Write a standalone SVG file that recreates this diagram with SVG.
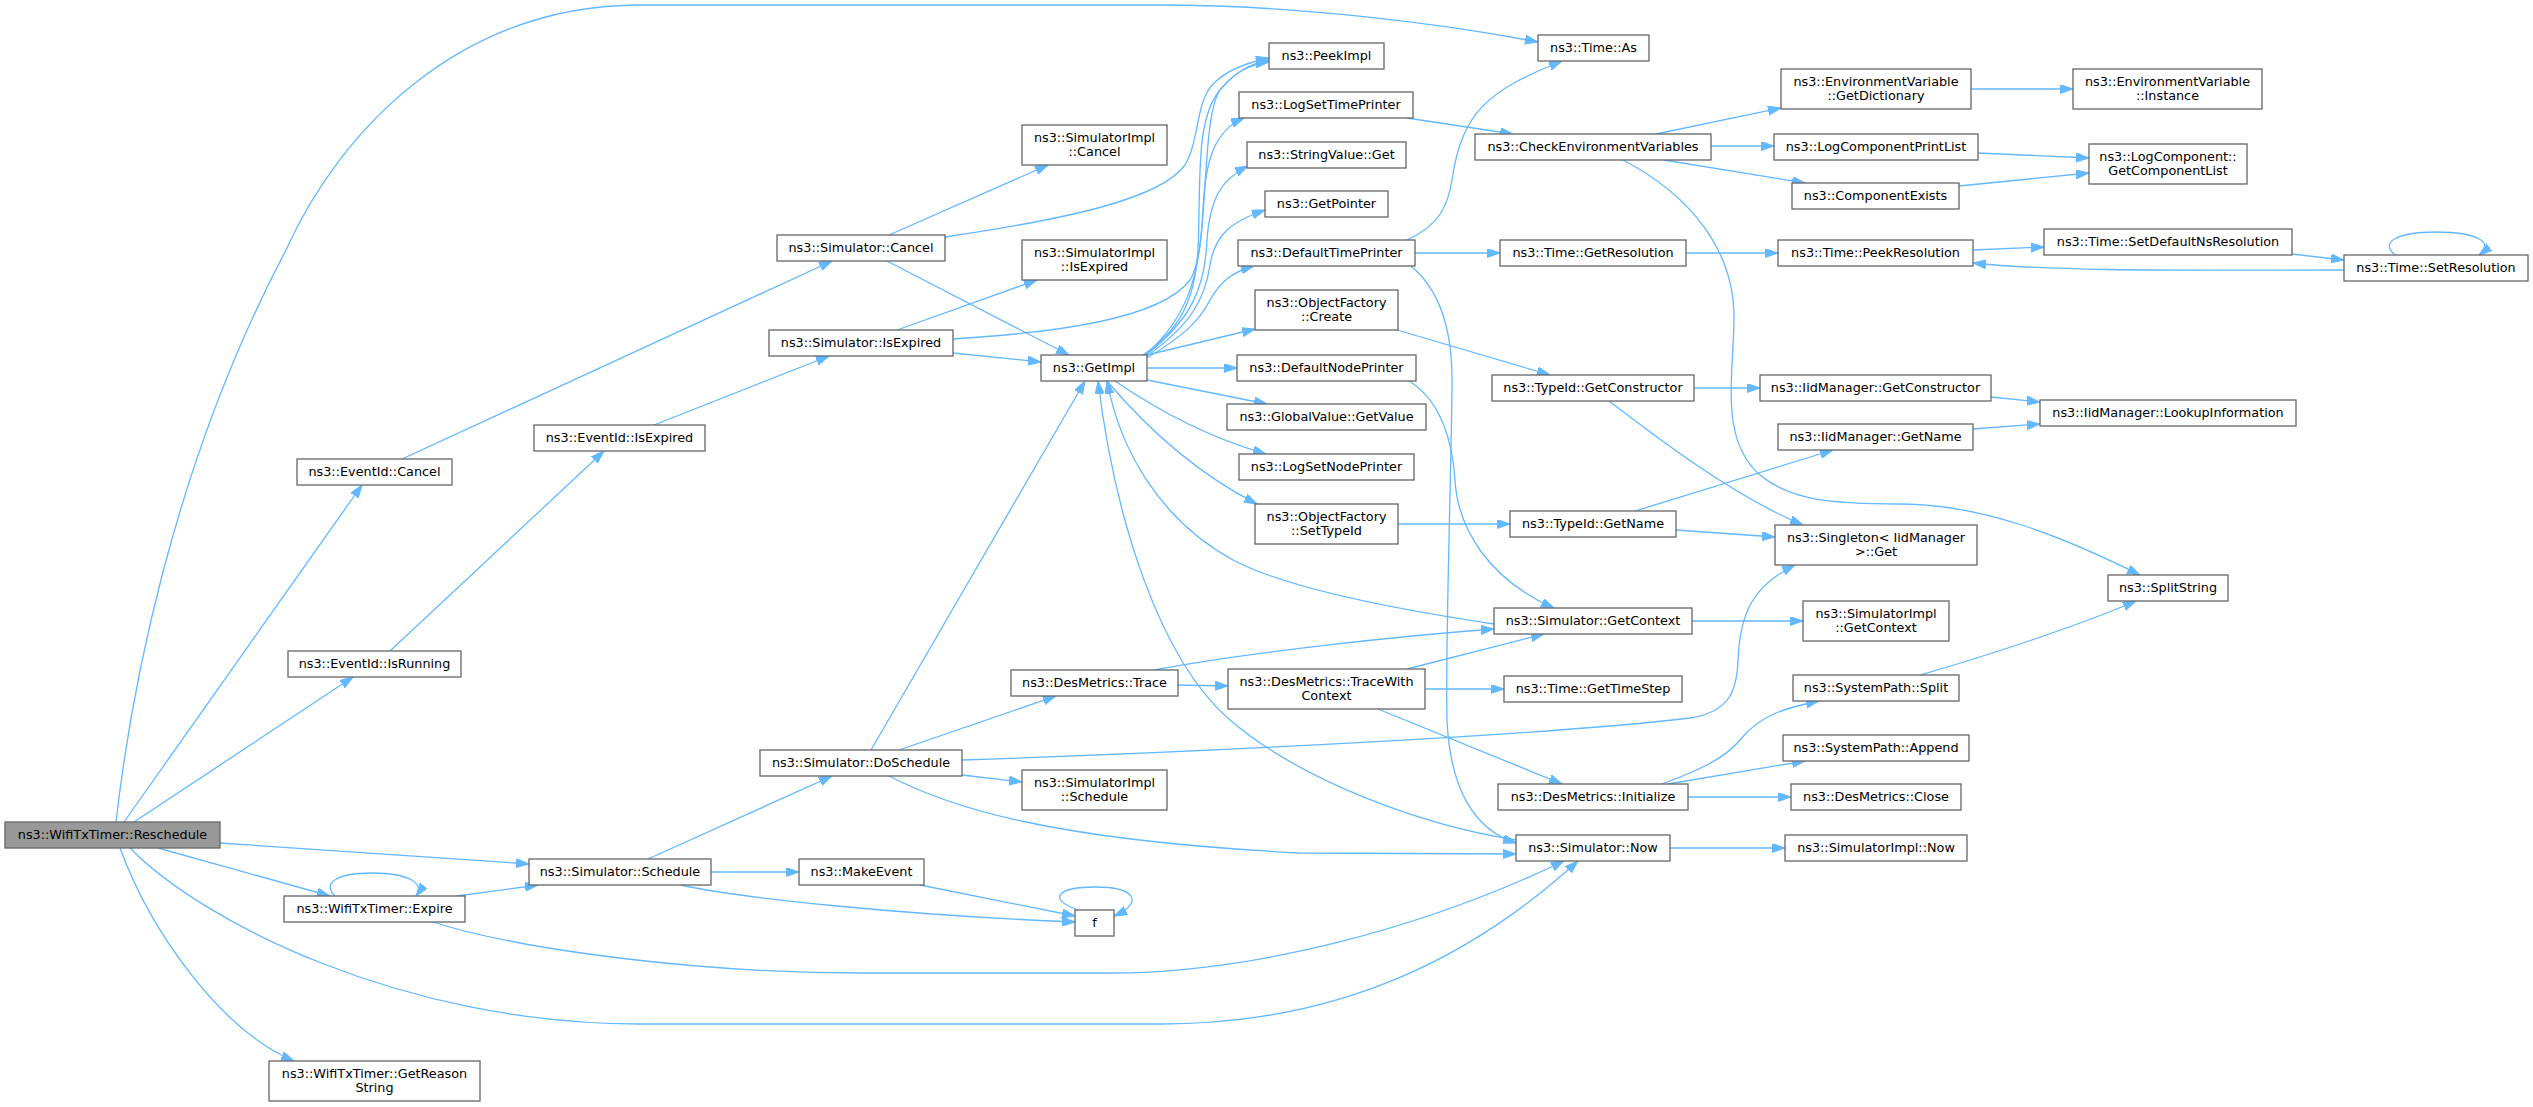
<svg xmlns="http://www.w3.org/2000/svg" width="2533" height="1107" viewBox="0 0 2533 1107">
<style>
.node rect{fill:#ffffff;stroke:#666666;stroke-width:1.3}
.node.root rect{fill:#999999}
.node text{font-family:"DejaVu Sans","Liberation Sans",sans-serif;font-size:12.8px;text-anchor:middle;fill:#000000}
.edges path{fill:none;stroke:#63b8ff;stroke-width:1.3;marker-end:url(#arr)}
</style>
<defs>
<marker id="arr" markerUnits="userSpaceOnUse" markerWidth="14" markerHeight="10" refX="13" refY="4.5" orient="auto">
<path d="M0,0 L13,4.5 L0,9 z" fill="#63b8ff" stroke="#63b8ff" stroke-width="1"/>
</marker>
</defs>
<rect width="2533" height="1107" fill="#ffffff"/>
<g class="edges">
<path d="M116,822 C130,700 170,470 286,250 C340,130 460,5 640,5 L1160,5 C1300,5 1450,25 1538,42"/>
<path d="M124,822 L362,485"/>
<path d="M134,822 L353,677"/>
<path d="M220,843 L529,864"/>
<path d="M158,848 L330,896"/>
<path d="M130,848 C200,920 400,1024 640,1024 L1160,1024 C1350,1024 1480,950 1578,861"/>
<path d="M120,848 C150,930 220,1030 294,1061"/>
<path d="M335,896 C322,884 335,873 372,873 C410,873 425,884 416,896"/>
<path d="M457,896 L538,885"/>
<path d="M433,922 C520,950 700,973 860,973 L1110,973 C1250,973 1420,930 1564,861"/>
<path d="M648,859 L832,776"/>
<path d="M711,872 L799,872"/>
<path d="M681,885 C740,898 900,915 1075,922"/>
<path d="M920,885 L1075,916"/>
<path d="M1078,910 C1045,898 1060,887 1095,887 C1135,887 1145,902 1114,916"/>
<path d="M871,750 L1085,381"/>
<path d="M899,750 L1056,696"/>
<path d="M962,775 L1022,782"/>
<path d="M962,760 C1200,752 1550,735 1690,718 C1730,712 1737,690 1738,660 C1740,610 1755,585 1795,565"/>
<path d="M887,775 C950,808 1050,840 1300,853 L1516,854"/>
<path d="M1178,685 L1228,686"/>
<path d="M1154,670 C1250,652 1400,636 1494,629"/>
<path d="M1407,669 L1544,634"/>
<path d="M1425,689 L1504,689"/>
<path d="M1378,709 L1562,784"/>
<path d="M1662,784 C1700,770 1725,758 1740,740 C1760,715 1785,708 1819,701"/>
<path d="M1668,784 L1805,761"/>
<path d="M1688,797 L1791,797"/>
<path d="M1670,848 L1785,848"/>
<path d="M1692,621 L1803,621"/>
<path d="M1920,675 C1990,655 2080,625 2136,601"/>
<path d="M1623,160 C1690,195 1735,250 1734,320 C1733,380 1720,440 1760,475 C1790,500 1830,504 1900,504 C1980,504 2060,535 2140,575"/>
<path d="M1407,240 C1440,225 1448,205 1452,180 C1462,110 1490,90 1562,61"/>
<path d="M1415,253 L1500,253"/>
<path d="M1411,266 C1440,290 1452,330 1452,380 C1452,450 1445,650 1447,720 C1450,790 1475,830 1516,843"/>
<path d="M1409,381 C1440,400 1452,440 1455,480 C1458,530 1490,580 1554,608"/>
<path d="M1407,118 L1513,134"/>
<path d="M1397,330 L1550,375"/>
<path d="M1398,524 L1510,524"/>
<path d="M1694,388 L1760,388"/>
<path d="M1609,401 C1650,432 1730,495 1803,525"/>
<path d="M1635,511 L1833,450"/>
<path d="M1676,530 L1775,537"/>
<path d="M1656,134 L1781,108"/>
<path d="M1711,146 L1774,146"/>
<path d="M1664,160 L1805,183"/>
<path d="M1686,253 L1778,253"/>
<path d="M1971,89 L2073,89"/>
<path d="M1978,153 L2089,158"/>
<path d="M1959,186 L2089,173"/>
<path d="M1973,250 L2044,247"/>
<path d="M2292,254 L2344,260"/>
<path d="M2344,270 C2200,270 2060,272 1973,263"/>
<path d="M2395,255 C2380,243 2395,232 2436,232 C2478,232 2495,243 2479,255"/>
<path d="M1991,397 L2040,402"/>
<path d="M1973,429 L2040,424"/>
<path d="M889,235 L1048,165"/>
<path d="M887,261 L1069,355"/>
<path d="M945,237 C1060,220 1160,200 1185,165 C1200,140 1195,100 1215,82 C1230,68 1250,62 1269,58"/>
<path d="M897,330 L1037,280"/>
<path d="M953,353 L1041,362"/>
<path d="M953,339 C1050,333 1160,320 1190,280 C1210,250 1200,120 1220,90 C1235,72 1250,64 1269,62"/>
<path d="M402,459 L832,261"/>
<path d="M654,425 L829,356"/>
<path d="M390,651 L604,451"/>
<path d="M1143,355 C1180,330 1195,300 1198,250 C1201,180 1195,120 1220,90 C1235,72 1250,64 1269,60"/>
<path d="M1145,355 C1185,320 1200,280 1203,210 C1205,160 1215,130 1244,118"/>
<path d="M1146,355 C1190,320 1205,290 1207,240 C1210,200 1220,180 1248,166"/>
<path d="M1147,356 C1190,325 1205,300 1210,265 C1215,235 1230,222 1265,210"/>
<path d="M1147,358 C1185,335 1200,320 1210,300 C1220,282 1232,272 1254,266"/>
<path d="M1147,355 L1255,329"/>
<path d="M1147,368 L1237,368"/>
<path d="M1147,380 L1267,404"/>
<path d="M1115,381 C1150,405 1200,435 1266,454"/>
<path d="M1107,381 C1140,420 1190,470 1257,504"/>
<path d="M1516,840 C1420,825 1300,780 1230,720 C1160,660 1115,520 1098,381"/>
<path d="M1494,624 C1400,610 1290,590 1233,560 C1160,520 1120,450 1107,381"/>
</g>
<g id="n0" class="node root"><rect x="5" y="822" width="215" height="26"/><text x="112.5" y="839">ns3::WifiTxTimer::Reschedule</text></g>
<g id="n1" class="node"><rect x="297" y="459" width="155" height="26"/><text x="374.5" y="476">ns3::EventId::Cancel</text></g>
<g id="n2" class="node"><rect x="534" y="425" width="171" height="26"/><text x="619.5" y="442">ns3::EventId::IsExpired</text></g>
<g id="n3" class="node"><rect x="288" y="651" width="173" height="26"/><text x="374.5" y="668">ns3::EventId::IsRunning</text></g>
<g id="n4" class="node"><rect x="284" y="896" width="181" height="26"/><text x="374.5" y="913">ns3::WifiTxTimer::Expire</text></g>
<g id="n5" class="node"><rect x="269" y="1061" width="211" height="40"/><text x="374.5" y="1077.5">ns3::WifiTxTimer::GetReason</text><text x="374.5" y="1092">String</text></g>
<g id="n6" class="node"><rect x="529" y="859" width="182" height="26"/><text x="620" y="876">ns3::Simulator::Schedule</text></g>
<g id="n7" class="node"><rect x="777" y="235" width="168" height="26"/><text x="861" y="252">ns3::Simulator::Cancel</text></g>
<g id="n8" class="node"><rect x="769" y="330" width="184" height="26"/><text x="861" y="347">ns3::Simulator::IsExpired</text></g>
<g id="n9" class="node"><rect x="1022" y="125" width="145" height="40"/><text x="1094.5" y="141.5">ns3::SimulatorImpl</text><text x="1094.5" y="156">::Cancel</text></g>
<g id="n10" class="node"><rect x="1022" y="240" width="145" height="40"/><text x="1094.5" y="256.5">ns3::SimulatorImpl</text><text x="1094.5" y="271">::IsExpired</text></g>
<g id="n11" class="node"><rect x="1041" y="355" width="106" height="26"/><text x="1094" y="372">ns3::GetImpl</text></g>
<g id="n12" class="node"><rect x="760" y="750" width="202" height="26"/><text x="861" y="767">ns3::Simulator::DoSchedule</text></g>
<g id="n13" class="node"><rect x="799" y="859" width="125" height="26"/><text x="861.5" y="876">ns3::MakeEvent</text></g>
<g id="n14" class="node"><rect x="1075" y="910" width="39" height="26"/><text x="1094.5" y="927">f</text></g>
<g id="n15" class="node"><rect x="1011" y="670" width="167" height="26"/><text x="1094.5" y="687">ns3::DesMetrics::Trace</text></g>
<g id="n16" class="node"><rect x="1022" y="770" width="145" height="40"/><text x="1094.5" y="786.5">ns3::SimulatorImpl</text><text x="1094.5" y="801">::Schedule</text></g>
<g id="n17" class="node"><rect x="1269" y="43" width="115" height="26"/><text x="1326.5" y="60">ns3::PeekImpl</text></g>
<g id="n18" class="node"><rect x="1239" y="92" width="174" height="26"/><text x="1326" y="109">ns3::LogSetTimePrinter</text></g>
<g id="n19" class="node"><rect x="1247" y="142" width="159" height="26"/><text x="1326.5" y="159">ns3::StringValue::Get</text></g>
<g id="n20" class="node"><rect x="1265" y="191" width="123" height="26"/><text x="1326.5" y="208">ns3::GetPointer</text></g>
<g id="n21" class="node"><rect x="1238" y="240" width="177" height="26"/><text x="1326.5" y="257">ns3::DefaultTimePrinter</text></g>
<g id="n22" class="node"><rect x="1255" y="290" width="143" height="40"/><text x="1326.5" y="306.5">ns3::ObjectFactory</text><text x="1326.5" y="321">::Create</text></g>
<g id="n23" class="node"><rect x="1237" y="355" width="179" height="26"/><text x="1326.5" y="372">ns3::DefaultNodePrinter</text></g>
<g id="n24" class="node"><rect x="1227" y="404" width="199" height="26"/><text x="1326.5" y="421">ns3::GlobalValue::GetValue</text></g>
<g id="n25" class="node"><rect x="1239" y="454" width="175" height="26"/><text x="1326.5" y="471">ns3::LogSetNodePrinter</text></g>
<g id="n26" class="node"><rect x="1255" y="504" width="143" height="40"/><text x="1326.5" y="520.5">ns3::ObjectFactory</text><text x="1326.5" y="535">::SetTypeId</text></g>
<g id="n27" class="node"><rect x="1228" y="669" width="197" height="40"/><text x="1326.5" y="685.5">ns3::DesMetrics::TraceWith</text><text x="1326.5" y="700">Context</text></g>
<g id="n28" class="node"><rect x="1538" y="35" width="111" height="26"/><text x="1593.5" y="52">ns3::Time::As</text></g>
<g id="n29" class="node"><rect x="1475" y="134" width="236" height="26"/><text x="1593" y="151">ns3::CheckEnvironmentVariables</text></g>
<g id="n30" class="node"><rect x="1500" y="240" width="186" height="26"/><text x="1593" y="257">ns3::Time::GetResolution</text></g>
<g id="n31" class="node"><rect x="1492" y="375" width="202" height="26"/><text x="1593" y="392">ns3::TypeId::GetConstructor</text></g>
<g id="n32" class="node"><rect x="1510" y="511" width="166" height="26"/><text x="1593" y="528">ns3::TypeId::GetName</text></g>
<g id="n33" class="node"><rect x="1494" y="608" width="198" height="26"/><text x="1593" y="625">ns3::Simulator::GetContext</text></g>
<g id="n34" class="node"><rect x="1504" y="676" width="178" height="26"/><text x="1593" y="693">ns3::Time::GetTimeStep</text></g>
<g id="n35" class="node"><rect x="1498" y="784" width="190" height="26"/><text x="1593" y="801">ns3::DesMetrics::Initialize</text></g>
<g id="n36" class="node"><rect x="1516" y="835" width="154" height="26"/><text x="1593" y="852">ns3::Simulator::Now</text></g>
<g id="n37" class="node"><rect x="1781" y="69" width="190" height="40"/><text x="1876" y="85.5">ns3::EnvironmentVariable</text><text x="1876" y="100">::GetDictionary</text></g>
<g id="n38" class="node"><rect x="1774" y="134" width="204" height="26"/><text x="1876" y="151">ns3::LogComponentPrintList</text></g>
<g id="n39" class="node"><rect x="1792" y="183" width="167" height="26"/><text x="1875.5" y="200">ns3::ComponentExists</text></g>
<g id="n40" class="node"><rect x="1778" y="240" width="195" height="26"/><text x="1875.5" y="257">ns3::Time::PeekResolution</text></g>
<g id="n41" class="node"><rect x="1760" y="375" width="231" height="26"/><text x="1875.5" y="392">ns3::IidManager::GetConstructor</text></g>
<g id="n42" class="node"><rect x="1778" y="424" width="195" height="26"/><text x="1875.5" y="441">ns3::IidManager::GetName</text></g>
<g id="n43" class="node"><rect x="1775" y="525" width="202" height="40"/><text x="1876" y="541.5">ns3::Singleton&lt; IidManager</text><text x="1876" y="556">&gt;::Get</text></g>
<g id="n44" class="node"><rect x="1803" y="601" width="146" height="40"/><text x="1876" y="617.5">ns3::SimulatorImpl</text><text x="1876" y="632">::GetContext</text></g>
<g id="n45" class="node"><rect x="1793" y="675" width="166" height="26"/><text x="1876" y="692">ns3::SystemPath::Split</text></g>
<g id="n46" class="node"><rect x="1783" y="735" width="186" height="26"/><text x="1876" y="752">ns3::SystemPath::Append</text></g>
<g id="n47" class="node"><rect x="1791" y="784" width="170" height="26"/><text x="1876" y="801">ns3::DesMetrics::Close</text></g>
<g id="n48" class="node"><rect x="1785" y="835" width="182" height="26"/><text x="1876" y="852">ns3::SimulatorImpl::Now</text></g>
<g id="n49" class="node"><rect x="2073" y="69" width="189" height="40"/><text x="2167.5" y="85.5">ns3::EnvironmentVariable</text><text x="2167.5" y="100">::Instance</text></g>
<g id="n50" class="node"><rect x="2089" y="144" width="158" height="40"/><text x="2168" y="160.5">ns3::LogComponent::</text><text x="2168" y="175">GetComponentList</text></g>
<g id="n51" class="node"><rect x="2044" y="229" width="248" height="26"/><text x="2168" y="246">ns3::Time::SetDefaultNsResolution</text></g>
<g id="n52" class="node"><rect x="2344" y="255" width="184" height="26"/><text x="2436" y="272">ns3::Time::SetResolution</text></g>
<g id="n53" class="node"><rect x="2040" y="400" width="256" height="26"/><text x="2168" y="417">ns3::IidManager::LookupInformation</text></g>
<g id="n54" class="node"><rect x="2108" y="575" width="120" height="26"/><text x="2168" y="592">ns3::SplitString</text></g>
</svg>
